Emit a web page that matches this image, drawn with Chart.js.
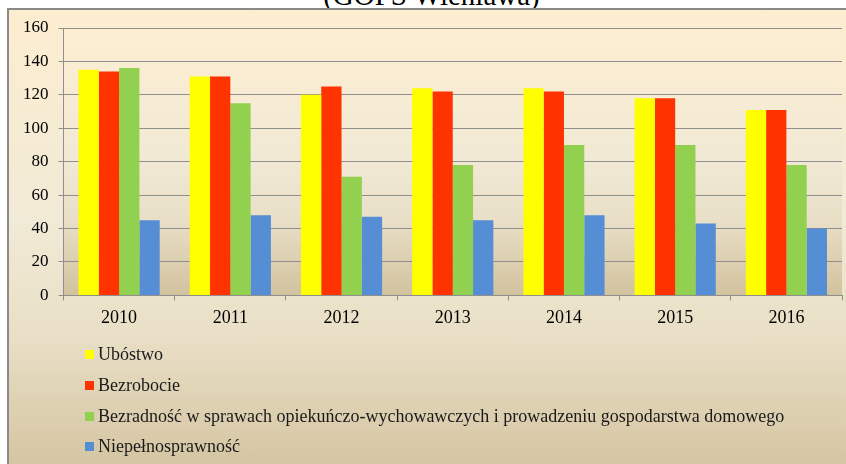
<!DOCTYPE html>
<html>
<head>
<meta charset="utf-8">
<script src="https://cdn.jsdelivr.net/npm/chart.js@4.4.1/dist/chart.umd.min.js"></script>
<style>
    html, body { margin: 0; padding: 0; background: #fff; width: 846px; height: 464px; overflow: hidden; }
    #title {
        position: absolute; left: 0; width: 863px; top: -19px;
        text-align: center; font: 29px/29px "Liberation Serif", serif; color: #000;
        white-space: nowrap;
    }
    #box {
        position: absolute; left: 7px; top: 8px; width: 860px; height: 470px;
        border: 2px solid #8a8a8a; box-sizing: border-box;
        background: linear-gradient(to bottom, #fdedd0 0%, #f1ead6 45%, #e9dfc6 70%, #d3c39f 100%);
    }
    #wrap { position: absolute; left: 0; top: 0; width: 846px; height: 464px; }
    #legend { position: absolute; left: 85px; top: 0; }
    .item {
        position: absolute; left: 0; white-space: nowrap;
        font-family: "Liberation Serif", "Times New Roman", serif; font-size: 18px; color: #1a1a1a;
        display: flex; align-items: center; height: 24px; margin-top: -12px;
    }
    .swatch { display: inline-block; width: 9px; height: 9px; margin-right: 4px; }
</style>
</head>
<body>
<div id="title">(GOPS Wieniawa)</div>
<div id="box"></div>
<div id="wrap"><canvas id="barChart" width="846" height="464"></canvas></div>
<div id="legend"></div>
<script>
// Categories and series
const years = ['2010', '2011', '2012', '2013', '2014', '2015', '2016'];
const seriesNames = [
    'Ubóstwo',
    'Bezrobocie',
    'Bezradność w sprawach opiekuńczo-wychowawczych i prowadzeniu gospodarstwa domowego',
    'Niepełnosprawność'
];
const ubostwo = [135, 131, 120, 124, 124, 118, 111];
const bezrobocie = [134, 131, 125, 122, 122, 118, 111];
const bezradnosc = [136, 115, 71, 78, 90, 90, 78];
const niepelnosprawnosc = [45, 48, 47, 45, 48, 43, 40];
const colors = ['#ffff00', '#ff3300', '#92d050', '#558ed5'];
const yTicks = [0, 20, 40, 60, 80, 100, 120, 140, 160];

const seriesData = [ubostwo, bezrobocie, bezradnosc, niepelnosprawnosc];

// plot area gradient fill
const plotBackground = {
    id: 'plotBackground',
    beforeDraw(chart) {
        const { ctx, chartArea: a } = chart;
        const g = ctx.createLinearGradient(0, a.top, 0, a.bottom);
        g.addColorStop(0, '#fdeed1');
        g.addColorStop(0.5, '#f1e9d5');
        g.addColorStop(0.72, '#e9dfc7');
        g.addColorStop(1, '#d2c29e');
        ctx.save();
        ctx.fillStyle = g;
        ctx.fillRect(a.left, a.top, a.right - a.left, a.bottom - a.top);
        ctx.restore();
    }
};

const gridGray = '#8f8f8f';

const chart = new Chart(document.getElementById('barChart'), {
    type: 'bar',
    data: {
        labels: years,
        datasets: seriesNames.map((name, i) => ({
            label: name,
            data: seriesData[i],
            backgroundColor: colors[i],
            borderWidth: 0,
            categoryPercentage: 0.73,
            barPercentage: 1.0
        }))
    },
    options: {
        responsive: false,
        animation: false,
        layout: {
            padding: { left: 13, right: 4, top: 28, bottom: 128 }
        },
        plugins: {
            legend: { display: false },
            tooltip: { enabled: false }
        },
        scales: {
            x: {
                grid: {
                    offset: true,
                    drawOnChartArea: false,
                    drawTicks: true,
                    tickLength: 5,
                    color: gridGray
                },
                border: { color: gridGray, width: 1 },
                ticks: {
                    color: '#000',
                    padding: 7,
                    font: { family: 'Liberation Serif', size: 18 }
                }
            },
            y: {
                min: 0,
                max: 160,
                afterBuildTicks: (scale) => { scale.ticks = yTicks.map(v => ({ value: v })); },
                grid: {
                    color: gridGray,
                    tickLength: 5
                },
                border: { color: gridGray, width: 1 },
                ticks: {
                    color: '#000',
                    padding: 10,
                    font: { family: 'Liberation Serif', size: 17 }
                }
            }
        }
    },
    plugins: [plotBackground]
});

// legend: one entry per line, as in the original
const legendTops = [354, 385, 416, 446];
const legend = document.getElementById('legend');
seriesNames.forEach((name, i) => {
    const item = document.createElement('div');
    item.className = 'item';
    item.style.top = legendTops[i] + 'px';
    const sw = document.createElement('span');
    sw.className = 'swatch';
    sw.style.background = colors[i];
    item.appendChild(sw);
    item.appendChild(document.createTextNode(name));
    legend.appendChild(item);
});
</script>
</body>
</html>
